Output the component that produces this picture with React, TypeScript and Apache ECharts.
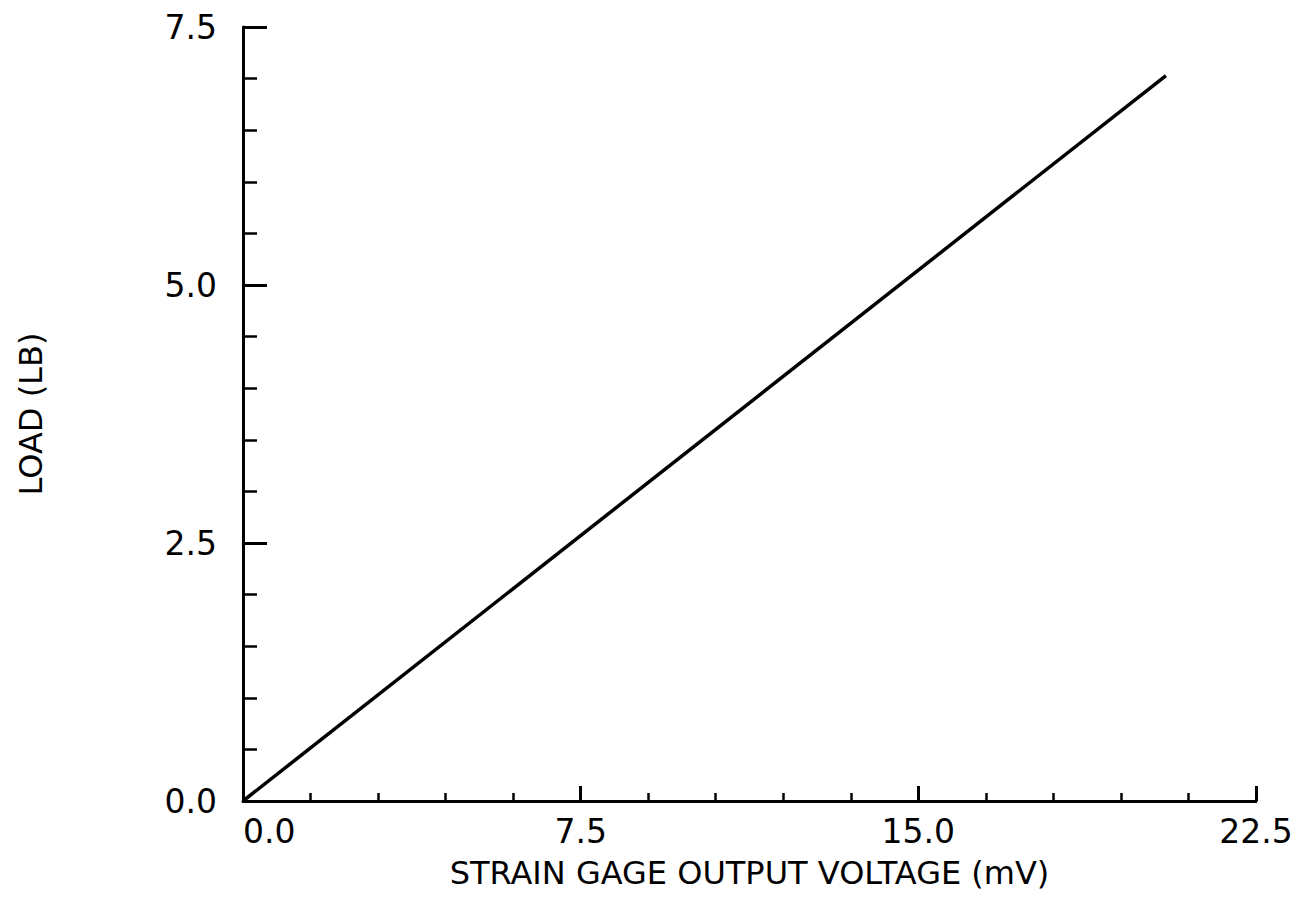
import React, { useEffect, useRef } from "react";
import * as echarts from "echarts";

const voltage = [0, 20.5];
const load = [0, 7.03];
const xTicks = [0, 7.5, 15, 22.5];
const yTicks = [0, 2.5, 5, 7.5];
const xTitle = "STRAIN GAGE OUTPUT VOLTAGE (mV)";
const yTitle = "LOAD (LB)";

export default function App() {
  const ref = useRef<HTMLDivElement>(null);
  useEffect(() => {
    const chart = echarts.init(ref.current!, null, { renderer: "svg" });
    const font = "'DejaVu Sans', Arial, sans-serif";
    chart.setOption({
      animation: false,
      backgroundColor: "#ffffff",
      grid: { left: 243, right: 58, top: 27, bottom: 112, containLabel: false },
      xAxis: {
        type: "value",
        min: xTicks[0],
        max: xTicks[xTicks.length - 1],
        interval: xTicks[1] - xTicks[0],
        name: xTitle,
        nameLocation: "middle",
        nameGap: 56,
        nameTextStyle: { fontFamily: font, fontSize: 32, color: "#000" },
        axisLine: { show: true, onZero: false, lineStyle: { color: "#000", width: 3 } },
        axisTick: { show: true, inside: true, length: 15, lineStyle: { color: "#000", width: 3 } },
        minorTick: { show: true, splitNumber: 5, length: 8, lineStyle: { color: "#000", width: 2.5 } },
        splitLine: { show: false },
        axisLabel: {
          fontFamily: font,
          fontSize: 33,
          color: "#000",
          margin: 14,
          alignMinLabel: "left",
          formatter: (v: number) => v.toFixed(1),
        },
      },
      yAxis: {
        type: "value",
        min: yTicks[0],
        max: yTicks[yTicks.length - 1],
        interval: yTicks[1] - yTicks[0],
        name: yTitle,
        nameLocation: "middle",
        nameGap: 196,
        nameRotate: 90,
        nameTextStyle: { fontFamily: font, fontSize: 32, color: "#000" },
        axisLine: { show: true, onZero: false, lineStyle: { color: "#000", width: 3 } },
        axisTick: { show: true, inside: true, length: 24, lineStyle: { color: "#000", width: 3 } },
        minorTick: { show: true, splitNumber: 5, length: 14, lineStyle: { color: "#000", width: 2.5 } },
        splitLine: { show: false },
        axisLabel: {
          fontFamily: font,
          fontSize: 33,
          color: "#000",
          margin: 26,
          formatter: (v: number) => v.toFixed(1),
        },
      },
      series: [
        {
          type: "line",
          data: voltage.map((v, i) => [v, load[i]]),
          showSymbol: false,
          symbol: "none",
          lineStyle: { color: "#000", width: 3.5 },
        },
      ],
    });
    return () => chart.dispose();
  }, []);
  return (
    <div
      ref={ref}
      style={{ position: "absolute", left: 0, top: 0, width: 1314, height: 913 }}
    />
  );
}
